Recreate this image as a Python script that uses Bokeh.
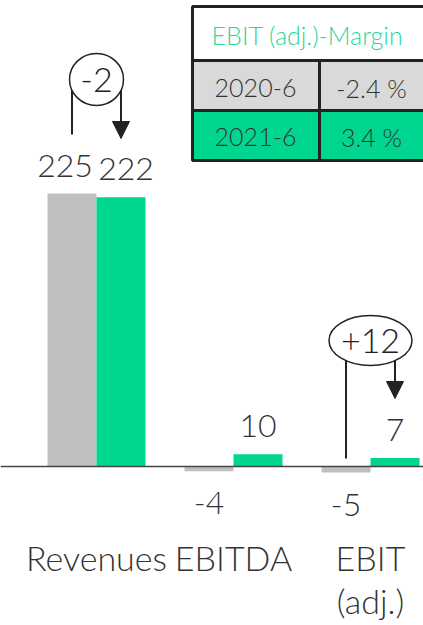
from bokeh.plotting import figure
from bokeh.models import Range1d, Arrow, NormalHead
from bokeh.core.properties import value
from bokeh.embed import file_html
from bokeh.resources import INLINE

categories = ["Revenues", "EBITDA", "EBIT"]
category_lines = [["Revenues"], ["EBITDA"], ["EBIT", "(adj.)"]]
prev_year = [225, -4, -5]
curr_year = [222, 10, 7]
deltas = {"Revenues": "-2", "EBIT": "+12"}
margin_periods = ["2020-6", "2021-6"]
margin_values = ["-2.4 %", "3.4 %"]
table_title = "EBIT (adj.)-Margin"

W, H = 423, 625
GRAY = "#bfbfbf"
GREEN = "#00d68f"
TXT = "#333333"
FONT = value("Lato Light")

# pixel -> data helpers (layout only)
XC0, XSTEP = 96.0, 137.0
YBASE, YSCALE = 466.0, 273.0 / 225.0
def X(px): return (px - XC0) / XSTEP
def Y(py): return (YBASE - py) / YSCALE

p = figure(width=W, height=H, output_backend="svg", toolbar_location=None,
           x_range=Range1d(X(0), X(W)), y_range=Range1d(Y(H), Y(0)),
           min_border=0, outline_line_color=None)
p.axis.visible = False
p.grid.visible = False
p.background_fill_color = "white"

bw = 49.0 / XSTEP
idx = list(range(len(categories)))
p.vbar(x=[i - bw / 2 for i in idx], top=prev_year, bottom=0, width=bw,
       fill_color=GRAY, line_color=None)
p.vbar(x=[i + bw / 2 for i in idx], top=curr_year, bottom=0, width=bw,
       fill_color=GREEN, line_color=None)

# baseline
p.segment(x0=[X(0)], y0=[0], x1=[X(W)], y1=[0], line_color="#444444", line_width=1.5)

# value labels (centred vertically)
def lab_y(v):
    return v + 28 / YSCALE if v >= 0 else v - 32 / YSCALE
vx, vy, vt = [], [], []
for i in idx:
    s0, s1 = str(prev_year[i]), str(curr_year[i])
    n0 = -7 / XSTEP if len(s0) >= 3 else 0
    n1 = 5 / XSTEP if len(s1) >= 3 else 0
    vx += [i - bw / 2 + n0, i + bw / 2 + n1]
    vy += [lab_y(prev_year[i]), lab_y(curr_year[i])]
    vt += [s0, s1]
p.text(x=vx, y=vy, text=vt, text_align="center", text_baseline="middle",
       text_font=FONT, text_font_size="32px", text_color=TXT)

# category labels
cx, cy, ct = [], [], []
for i, lines in enumerate(category_lines):
    for j, ln in enumerate(lines):
        cx.append(i)
        cy.append(Y(557 + j * 43))
        ct.append(ln)
p.text(x=cx, y=cy, text=ct, text_align="center", text_baseline="middle",
       text_font=FONT, text_font_size="34px", text_color=TXT)

# delta annotations
def delta(i, label, cy_px, ew, eh, left_end, arrow_end):
    p.segment(x0=[i - bw / 2], y0=[Y(cy_px)], x1=[i - bw / 2],
              y1=[Y(left_end)], line_color="#222222", line_width=2)
    p.add_layout(Arrow(end=NormalHead(size=17, fill_color="#222222", line_color="#222222"),
                       x_start=i + bw / 2, y_start=Y(cy_px),
                       x_end=i + bw / 2, y_end=Y(arrow_end),
                       line_color="#222222", line_width=2, level="underlay"))
    p.ellipse(x=[i], y=[Y(cy_px)], width=[ew / XSTEP], height=[eh / YSCALE],
              fill_color="white", line_color="#222222", line_width=1.5)
    p.text(x=[i], y=[Y(cy_px)], text=[label], text_align="center",
           text_baseline="middle", text_font=FONT, text_font_size="34px",
           text_color="#222222")

delta(0, deltas["Revenues"], 79, 54, 52, 134, 138)
delta(2, deltas["EBIT"], 340, 83, 50, 458, 398)

# margin table
tl, tr = 192, 428
rows = [(6, 60), (60, 110), (110, 160)]
mid = 319
p.quad(left=[X(tl)], right=[X(tr)], top=[Y(rows[0][0])], bottom=[Y(rows[0][1])],
       fill_color="white", line_color="#222222", line_width=3)
fills = ["#d9d9d9", GREEN]
for k in range(2):
    t, b = rows[k + 1]
    p.quad(left=[X(tl), X(mid)], right=[X(mid), X(tr)], top=[Y(t)] * 2, bottom=[Y(b)] * 2,
           fill_color=fills[k], line_color="#222222", line_width=3)
p.text(x=[X(307)], y=[Y(34)], text=[table_title], text_align="center",
       text_baseline="middle", text_font=FONT, text_font_size="25px", text_color="#2fd699")
p.text(x=[X(255), X(255)], y=[Y(87), Y(136)], text=margin_periods, text_align="center",
       text_baseline="middle", text_font=FONT, text_font_size="25px", text_color=TXT)
p.text(x=[X(371), X(371)], y=[Y(87), Y(136)], text=margin_values, text_align="center",
       text_baseline="middle", text_font=FONT, text_font_size="25px", text_color=TXT)

open("out.html", "w").write(file_html(p, INLINE))
